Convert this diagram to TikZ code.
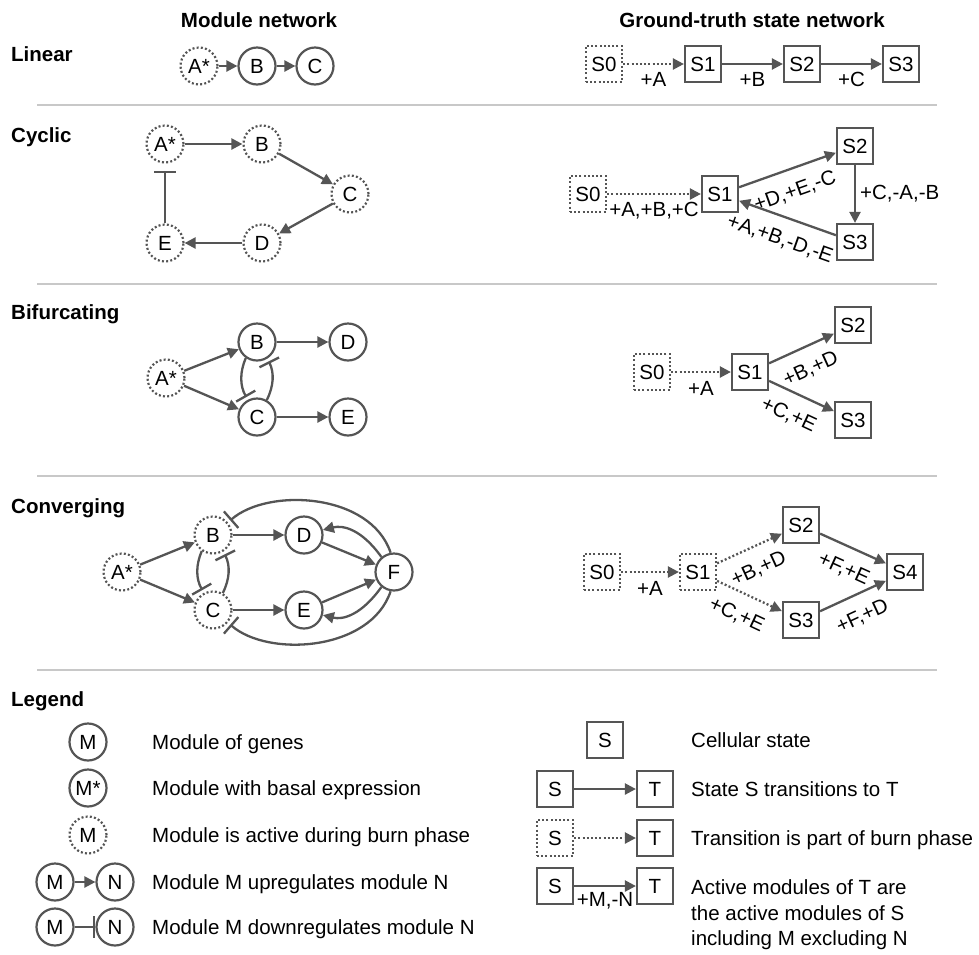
\documentclass[tikz,border=0pt]{standalone}
\usepackage{fontspec}
\setmainfont{Liberation Sans}
\usetikzlibrary{arrows.meta}
\definecolor{ec}{HTML}{555555}
\definecolor{sepc}{HTML}{C8C8C8}
\begin{document}
\begin{tikzpicture}[x=1pt,y=-1pt,
  every node/.style={font=\fontsize{20.5}{24}\selectfont},
  mod/.style={circle, draw=ec, line width=2.2pt, minimum size=37pt, inner sep=0pt},
  modb/.style={mod, dash pattern=on 2pt off 2.2pt},
  st/.style={rectangle, draw=ec, line width=2.2pt, minimum size=36pt, inner sep=0pt},
  stb/.style={st, dash pattern=on 2pt off 2.2pt},
  up/.style={draw=ec, line width=2.3pt, -{Triangle[length=11pt,width=11pt]}},
  upb/.style={up, dash pattern=on 2pt off 2.2pt},
  down/.style={draw=ec, line width=2.3pt, -{Bar[width=22pt]}},
  lab/.style={inner sep=1pt},
  slab/.style={inner sep=1pt, sloped, anchor=north, yshift=-12pt},
  hdr/.style={font=\bfseries\fontsize{20.5}{24}\selectfont},
  txt/.style={anchor=base west, inner sep=0pt},
  sepline/.style={draw=sepc, line width=2pt},
]
\useasboundingbox (0,0) rectangle (979,954);

% headers
\node[hdr] (h1) at (259,20) {Module network};
\node[hdr] (h2) at (752,20) {Ground-truth state network};
\node[hdr, txt] (r1) at (11,61) {Linear};
\node[hdr, txt] (r2) at (11,142) {Cyclic};
\node[hdr, txt] (r3) at (11,319) {Bifurcating};
\node[hdr, txt] (r4) at (11,513) {Converging};
\node[hdr, txt] (r5) at (11,706) {Legend};

% separators
\draw[sepline] (37,105) -- (937,105);
\draw[sepline] (37,284) -- (937,284);
\draw[sepline] (37,476) -- (937,476);
\draw[sepline] (37,670) -- (937,670);

% ---------- Linear ----------
\node[modb] (lA) at (199,66) {A*};
\node[mod] (lB) at (257,66) {B};
\node[mod] (lC) at (315,66) {C};
\draw[up] (lA) -- (lB);
\draw[up] (lB) -- (lC);

\node[stb] (lS0) at (604,64) {S0};
\node[st] (lS1) at (703,64) {S1};
\node[st] (lS2) at (802,64) {S2};
\node[st] (lS3) at (901,64) {S3};
\draw[upb] (lS0) -- node[lab,below=6pt]{+A} (lS1);
\draw[up] (lS1) -- node[lab,below=6pt]{+B} (lS2);
\draw[up] (lS2) -- node[lab,below=6pt]{+C} (lS3);

% ---------- Cyclic ----------
\node[modb] (cA) at (165,144) {A*};
\node[modb] (cB) at (262,144) {B};
\node[modb] (cC) at (350,194) {C};
\node[modb] (cD) at (262,243) {D};
\node[modb] (cE) at (165,243) {E};
\draw[up] (cA) -- (cB);
\draw[up] (cB) -- (cC);
\draw[up] (cC) -- (cD);
\draw[up] (cD) -- (cE);
\draw[down, shorten >=7pt] (cE) -- (cA);

\node[stb] (cS0) at (588,194) {S0};
\node[st] (cS1) at (720,194) {S1};
\node[st] (cS2) at (855,146) {S2};
\node[st] (cS3) at (855,242) {S3};
\draw[upb] (cS0) -- node[lab,below=6pt]{+A,+B,+C} (cS1);
\draw[up] (cS1) -- node[slab]{+D,+E,-C} (cS2);
\draw[up] (cS2) -- node[lab,right=3pt]{+C,-A,-B} (cS3);
\draw[up] (cS3) -- node[slab]{+A,+B,-D,-E} (cS1);

% ---------- Bifurcating ----------
\node[modb] (bA) at (166,378) {A*};
\node[mod] (bB) at (257,342) {B};
\node[mod] (bD) at (348,342) {D};
\node[mod] (bC) at (257,417) {C};
\node[mod] (bE) at (348,417) {E};
\draw[up] (bA) -- (bB);
\draw[up] (bA) -- (bC);
\draw[up] (bB) -- (bD);
\draw[up] (bC) -- (bE);
\draw[down, shorten >=3pt] (bB.235) .. controls +(-6,14) and +(-8,-14) .. (bC.118);
\draw[down, shorten >=3pt] (bC.60) .. controls +(7,-14) and +(7,14) .. (bB.302);

\node[stb] (bS0) at (652,372) {S0};
\node[st] (bS1) at (750,372) {S1};
\node[st] (bS2) at (853,325) {S2};
\node[st] (bS3) at (853,420) {S3};
\draw[upb] (bS0) -- node[lab,below=7pt]{+A} (bS1);
\draw[up] (bS1) -- node[slab]{+B,+D} (bS2);
\draw[up] (bS1) -- node[slab,pos=0.45]{+C,+E} (bS3);

% ---------- Converging ----------
\node[modb] (vA) at (122,572) {A*};
\node[modb] (vB) at (213,535) {B};
\node[modb] (vC) at (213,610) {C};
\node[mod] (vD) at (304,535) {D};
\node[mod] (vE) at (304,610) {E};
\node[mod] (vF) at (394,572) {F};
\draw[up] (vA) -- (vB);
\draw[up] (vA) -- (vC);
\draw[up] (vB) -- (vD);
\draw[up] (vC) -- (vE);
\draw[up] (vD) -- (vF);
\draw[up] (vE) -- (vF);
\draw[up] (vF.130) .. controls +(-20,-28) and +(20,-5) .. (vD.15);
\draw[up] (vF.230) .. controls +(-20,28) and +(20,5) .. (vE.-15);
\draw[down, shorten >=3pt] (vF.100) .. controls +(-20,-60) and +(40,-35) .. (vB.40);
\draw[down, shorten >=3pt] (vF.260) .. controls +(-20,60) and +(40,35) .. (vC.-40);
\draw[down, shorten >=3pt] (vB.235) .. controls +(-6,14) and +(-8,-14) .. (vC.118);
\draw[down, shorten >=3pt] (vC.60) .. controls +(7,-14) and +(7,14) .. (vB.302);

\node[stb] (vS0) at (602,572) {S0};
\node[stb] (vS1) at (698,572) {S1};
\node[st] (vS2) at (801,525) {S2};
\node[st] (vS3) at (801,620) {S3};
\node[st] (vS4) at (905,572) {S4};
\draw[upb] (vS0) -- node[lab,below=7pt]{+A} (vS1);
\draw[upb] (vS1) -- node[slab]{+B,+D} (vS2);
\draw[upb] (vS1) -- node[slab,pos=0.45]{+C,+E} (vS3);
\draw[up] (vS2) -- node[slab]{+F,+E} (vS4);
\draw[up] (vS3) -- node[slab]{+F,+D} (vS4);

% ---------- Legend left ----------
\node[mod] (gM) at (88,742) {M};
\node[mod] (gMs) at (88,788) {M*};
\node[modb] (gMd) at (88,835) {M};
\node[mod] (gM1) at (55,882) {M};
\node[mod] (gN1) at (115,882) {N};
\draw[up] (gM1) -- (gN1);
\node[mod] (gM2) at (55,927) {M};
\node[mod] (gN2) at (115,927) {N};
\draw[down] (gM2) -- (gN2);
\node[txt] (t1) at (152,749) {Module of genes};
\node[txt] (t2) at (152,795) {Module with basal expression};
\node[txt] (t3) at (152,842) {Module is active during burn phase};
\node[txt] (t4) at (152,889) {Module M upregulates module N};
\node[txt] (t5) at (152,934) {Module M downregulates module N};

% ---------- Legend right ----------
\node[st] (rS) at (605,740) {S};
\node[st] (rS1) at (555,789) {S};
\node[st] (rT1) at (655,789) {T};
\draw[up] (rS1) -- (rT1);
\node[stb] (rS2) at (555,838) {S};
\node[st] (rT2) at (655,838) {T};
\draw[upb] (rS2) -- (rT2);
\node[st] (rS3) at (555,886) {S};
\node[st] (rT3) at (655,886) {T};
\draw[up] (rS3) -- node[lab,below=4pt]{+M,-N} (rT3);
\node[txt] (u1) at (691,747) {Cellular state};
\node[txt] (u2) at (691,796) {State S transitions to T};
\node[txt] (u3) at (691,845) {Transition is part of burn phase};
\node[txt] (u4) at (691,894) {Active modules of T are};
\node[txt] (u5) at (691,920) {the active modules of S};
\node[txt] (u6) at (691,945) {including M excluding N};
\end{tikzpicture}
\end{document}
